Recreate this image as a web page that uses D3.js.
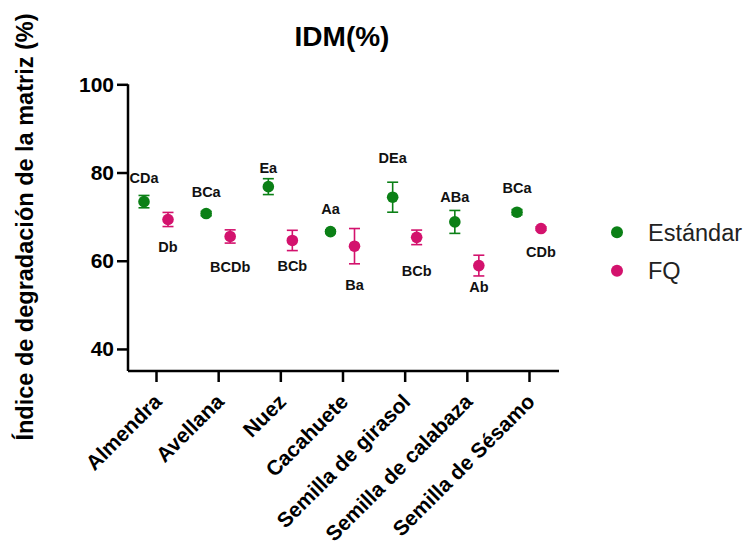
<!DOCTYPE html>
<html>
<head>
<meta charset="utf-8">
<script src="https://cdn.jsdelivr.net/npm/d3@7"></script>
<style>
  body { margin: 0; background: #fff; }
  text { font-family: "Liberation Sans", Arial, sans-serif; }
</style>
</head>
<body>
<svg id="chart"></svg>
<script>
var width = 745;
var height = 546;

var categories = ["Almendra", "Avellana", "Nuez", "Cacahuete", "Semilla de girasol", "Semilla de calabaza", "Semilla de Sésamo"];
var yTicks = [40, 60, 80, 100];

var estandarMean = [73.4, 70.7, 76.8, 66.6, 74.4, 68.8, 71.0];
var estandarErr = [1.4, 0.5, 1.8, 0.4, 3.4, 2.6, 0.6];
var estandarLetters = ["CDa", "BCa", "Ea", "Aa", "DEa", "ABa", "BCa"];
var estandarLetterY = [78.8, 75.5, 81.1, 71.8, 83.2, 74.4, 76.6];

var fqMean = [69.35, 65.5, 64.6, 63.3, 65.3, 58.9, 67.3];
var fqErr = [1.6, 1.5, 2.3, 4.0, 1.65, 2.35, 0.4];
var fqLetters = ["Db", "BCDb", "BCb", "Ba", "BCb", "Ab", "CDb"];
var fqLetterY = [63.2, 58.7, 58.9, 54.6, 57.6, 54.0, 61.9];

var green = "#0b8016";
var pink = "#d3126d";

var svg = d3.select("#chart")
    .attr("width", width)
    .attr("height", height)
    .attr("xmlns", "http://www.w3.org/2000/svg");

var x = d3.scalePoint().domain(categories).range([156, 529]);
var y = d3.scaleLinear().domain([35, 100]).range([371, 84.3]);
var offset = 12;

// axes
var xAxis = svg.append("g")
    .attr("transform", "translate(0,371)")
    .call(d3.axisBottom(x).tickSize(11).tickFormat(""));
xAxis.select(".domain").attr("d", "M128,0H559");
xAxis.selectAll("path, line").attr("stroke", "#000").attr("stroke-width", 2.5);

var yAxis = svg.append("g")
    .attr("transform", "translate(128,0)")
    .call(d3.axisLeft(y).tickValues(yTicks).tickSize(11).tickPadding(3));
yAxis.select(".domain").attr("d", "M0,84.3V371");
yAxis.selectAll("path, line").attr("stroke", "#000").attr("stroke-width", 2.5);
yAxis.selectAll("text")
    .style("font-size", "21px")
    .style("font-weight", "bold")
    .attr("fill", "#000");

// rotated category labels
svg.append("g").selectAll("text")
    .data(categories)
    .enter()
    .append("text")
    .attr("transform", function (d) {
        return "translate(" + (x(d) + 7) + ",403) rotate(-45)";
    })
    .attr("text-anchor", "end")
    .style("font-size", "21px")
    .style("font-weight", "bold")
    .attr("fill", "#000")
    .text(function (d) { return d; });

// title and y label
svg.append("text")
    .attr("x", 342).attr("y", 46)
    .attr("text-anchor", "middle")
    .style("font-size", "28px")
    .style("font-weight", "bold")
    .text("IDM(%)");

svg.append("text")
    .attr("transform", "translate(33,227) rotate(-90)")
    .attr("text-anchor", "middle")
    .style("font-size", "23.5px")
    .style("font-weight", "bold")
    .text("Índice de degradación de la matriz (%)");

function drawSeries(means, errs, letters, letterY, color, dx, cls) {
    var rows = categories.map(function (c, i) {
        return {cat: c, mean: means[i], err: errs[i], letter: letters[i], ly: letterY[i]};
    });
    var g = svg.append("g").attr("class", cls);
    var bars = g.selectAll(".err").data(rows).enter().append("g");
    bars.append("line")
        .attr("x1", function (d) { return x(d.cat) + dx; })
        .attr("x2", function (d) { return x(d.cat) + dx; })
        .attr("y1", function (d) { return y(d.mean + d.err); })
        .attr("y2", function (d) { return y(d.mean - d.err); })
        .attr("stroke", color).attr("stroke-width", 1.6);
    [1, -1].forEach(function (s) {
        bars.append("line")
            .attr("x1", function (d) { return x(d.cat) + dx - 5.5; })
            .attr("x2", function (d) { return x(d.cat) + dx + 5.5; })
            .attr("y1", function (d) { return y(d.mean + s * d.err); })
            .attr("y2", function (d) { return y(d.mean + s * d.err); })
            .attr("stroke", color).attr("stroke-width", 1.6);
    });
    g.selectAll(".dot").data(rows).enter().append("circle")
        .attr("cx", function (d) { return x(d.cat) + dx; })
        .attr("cy", function (d) { return y(d.mean); })
        .attr("r", 5.8)
        .attr("fill", color);
    g.selectAll(".lbl").data(rows).enter().append("text")
        .attr("x", function (d) { return x(d.cat) + dx; })
        .attr("y", function (d) { return y(d.ly); })
        .attr("dy", "0.35em")
        .attr("text-anchor", "middle")
        .style("font-size", "14.5px")
        .style("font-weight", "bold")
        .attr("fill", "#111")
        .text(function (d) { return d.letter; });
}

drawSeries(estandarMean, estandarErr, estandarLetters, estandarLetterY, green, -offset, "estandar");
drawSeries(fqMean, fqErr, fqLetters, fqLetterY, pink, offset, "fq");

// legend
var legend = [{name: "Estándar", color: green}, {name: "FQ", color: pink}];
var lg = svg.append("g").selectAll("g").data(legend).enter().append("g")
    .attr("transform", function (d, i) { return "translate(617," + (232.3 + i * 38.4) + ")"; });
lg.append("circle").attr("r", 6).attr("fill", function (d) { return d.color; });
lg.append("text")
    .attr("x", 31).attr("dy", "0.35em")
    .style("font-size", "23.5px")
    .attr("fill", "#222")
    .text(function (d) { return d.name; });
</script>
</body>
</html>
